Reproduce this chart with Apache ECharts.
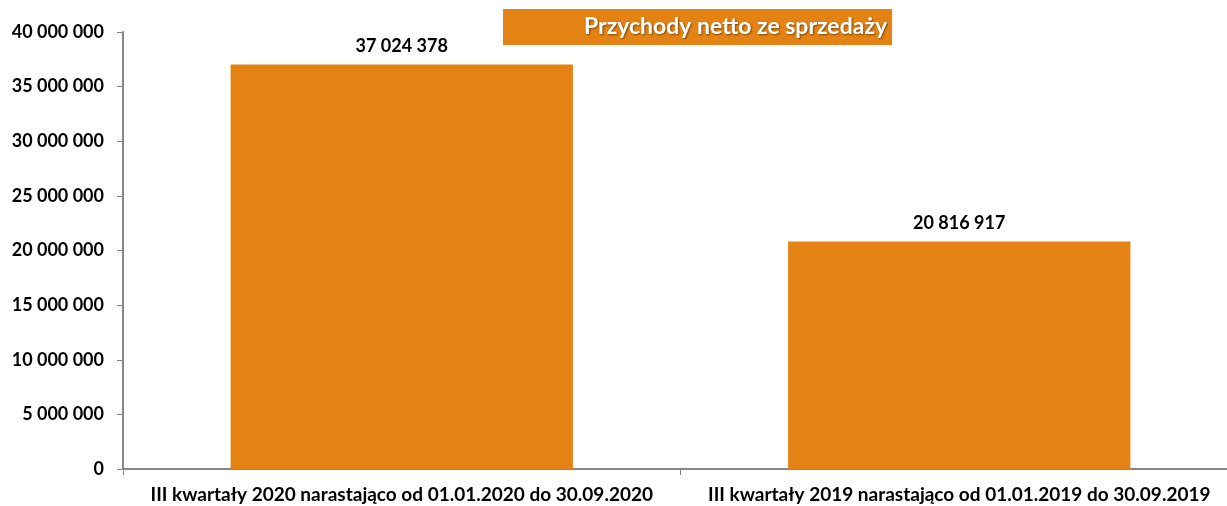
<!DOCTYPE html>
<html><head><meta charset="utf-8">
<script src="https://cdn.jsdelivr.net/npm/echarts@6/dist/echarts.min.js"></script>
<style>html,body{margin:0;padding:0;background:#fff}#c{width:1227px;height:506px}</style>
</head><body><div id="c"></div>
<script>
const categories = ['III kwartały 2020 narastająco od 01.01.2020 do 30.09.2020', 'III kwartały 2019 narastająco od 01.01.2019 do 30.09.2019'];
const seriesName = 'Przychody netto ze sprzedaży';
const values = [37024378, 20816917];
const yMin = 0, yMax = 40000000, yStep = 5000000;

function fmt(v){ return String(Math.round(v)).replace(/\B(?=(\d{3})+(?!\d))/g, ' '); }
const FONT = 'Lato';
const chart = echarts.init(document.getElementById('c'));
chart.setOption({
  animation: false,
  textStyle: { fontFamily: FONT },
  legend: {
    data: [seriesName],
    top: 9, left: 503,
    backgroundColor: '#E48313',
    borderRadius: 0,
    padding: [6, 5, 7, 76],
    itemWidth: 0, itemHeight: 0, itemGap: 0,
    icon: 'rect',
    selectedMode: false,
    textStyle: { color: '#fff', fontSize: 23, fontWeight: 'bold', fontFamily: FONT,
      textShadowColor: 'rgba(0,0,0,0.45)', textShadowBlur: 2, textShadowOffsetX: 1, textShadowOffsetY: 1 }
  },
  grid: { left: 123, width: 1115, top: 32, bottom: 37, containLabel: false, outerBoundsMode: 'none' },
  xAxis: {
    type: 'category', data: categories,
    axisLine: { lineStyle: { color: '#868686', width: 2 } },
    axisTick: { show: true, length: 6, lineStyle: { color: '#868686', width: 1 } },
    axisLabel: { color: '#000', fontSize: 19, fontWeight: 'bold', margin: 16, fontFamily: FONT, interval: 0 }
  },
  yAxis: {
    type: 'value', min: yMin, max: yMax, interval: yStep,
    axisLine: { show: true, lineStyle: { color: '#868686', width: 2 } },
    axisTick: { show: true, length: 6, lineStyle: { color: '#868686', width: 1 } },
    splitLine: { show: false },
    axisLabel: { color: '#000', fontSize: 18, fontWeight: 'bold', margin: 19, fontFamily: FONT, formatter: fmt }
  },
  series: [{
    name: seriesName, type: 'bar', data: values,
    barCategoryGap: '38.6%',
    itemStyle: { color: '#E48313' },
    label: { show: true, position: 'top', distance: 9, color: '#000', fontSize: 18, fontWeight: 'bold', fontFamily: FONT,
      formatter: p => fmt(p.value) }
  }]
});
</script></body></html>
